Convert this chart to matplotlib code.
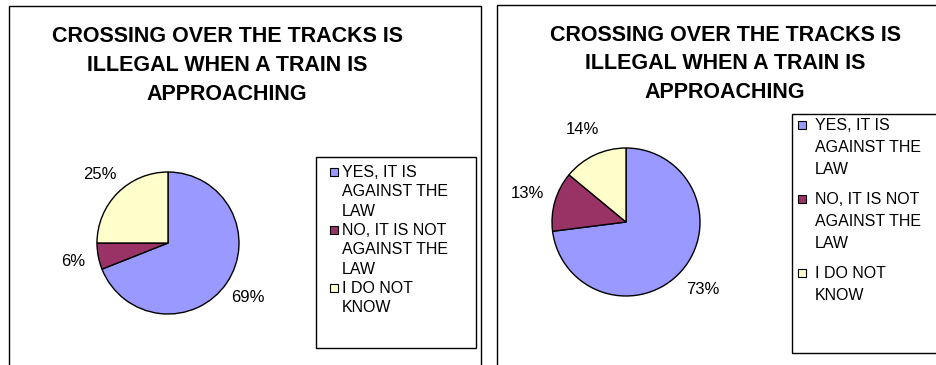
import matplotlib.pyplot as plt
from matplotlib.patches import Rectangle

plt.rcParams['font.family'] = ['Liberation Sans', 'DejaVu Sans']

W, H = 936, 365

title_lines = ["CROSSING OVER THE TRACKS IS", "ILLEGAL WHEN A TRAIN IS", "APPROACHING"]
answers = ["YES, IT IS\nAGAINST THE\nLAW", "NO, IT IS NOT\nAGAINST THE\nLAW", "I DO NOT\nKNOW"]
left_pct = [69, 6, 25]
right_pct = [73, 13, 14]
colors = ['#9999FF', '#993366', '#FFFFCC']

fig = plt.figure(figsize=(W / 100, H / 100), dpi=100)


def px(x, y):
    # pixel (from top-left) -> figure fraction
    return x / W, 1 - y / H


def box(x0, y0, x1, y1):
    fig.add_artist(Rectangle(px(x0, y1), (x1 - x0) / W, (y1 - y0) / H,
                             transform=fig.transFigure, fill=False,
                             ec='black', lw=1, clip_on=False))


def title(cx, baselines):
    for line, yb in zip(title_lines, baselines):
        fig.text(*px(cx, yb), line, ha='center', va='baseline',
                 fontsize=15.5, fontweight='bold')


def pie(values, cx, cy, r, pctdist):
    x, y = px(cx - r, cy + r)
    ax = fig.add_axes([x, y, 2 * r / W, 2 * r / H])
    ax.pie(values, colors=colors, startangle=90, counterclock=False,
           autopct='%.0f%%', pctdistance=pctdist,
           wedgeprops=dict(edgecolor='black', linewidth=1),
           textprops=dict(fontsize=12))
    ax.set_xlim(-1, 1)
    ax.set_ylim(-1, 1)


def legend(mx, tx, y0, line_step, entry_step):
    for i, (label, c) in enumerate(zip(answers, colors)):
        yb = y0 + i * entry_step
        s = 8
        fig.add_artist(Rectangle(px(mx - s / 2, yb - 1), s / W, s / H,
                                 transform=fig.transFigure, fc=c,
                                 ec='black', lw=0.8))
        for j, line in enumerate(label.split('\n')):
            fig.text(*px(tx, yb + j * line_step), line, ha='left',
                     va='baseline', fontsize=11.5)


# left chart
box(9, 6, 481, 380)
title(227, [42, 71, 100])
pie(left_pct, 168, 243, 71, 1.36)
box(316, 157, 476, 348)
legend(334, 342, 177, 19.3, 3 * 19.3)

# right chart
box(497, 5, 960, 380)
title(725, [41, 69, 98])
pie(right_pct, 626, 222, 74, 1.38)
box(792, 114, 960, 353)
legend(802, 815, 130, 22, 74)

plt.savefig('out.png', dpi=100)
